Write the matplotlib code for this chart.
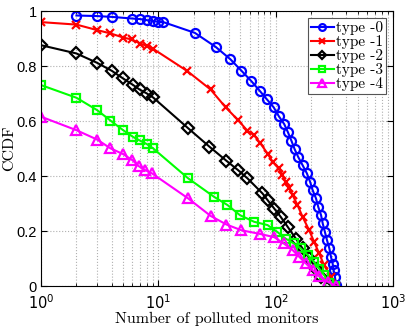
import numpy as np
import matplotlib
matplotlib.use('Agg')
import matplotlib.pyplot as plt
from matplotlib.ticker import LogLocator, FixedLocator, NullFormatter

# values (x: number of polluted monitors, y: CCDF)
x0 = [2, 3, 4, 6, 7, 8, 9, 10, 11, 20.4, 30.7, 41, 51, 62, 73, 84, 96, 106, 118, 127, 136, 145, 155,
      169, 184, 196, 206, 220, 230, 243, 251, 262, 273, 286, 295, 305, 311, 319, 326]
y0 = [0.984, 0.982, 0.979, 0.973, 0.971, 0.967, 0.964, 0.961, 0.960, 0.921, 0.870, 0.825, 0.783, 0.745,
      0.710, 0.679, 0.650, 0.618, 0.589, 0.559, 0.528, 0.497, 0.470,
      0.440, 0.410, 0.379, 0.349, 0.319, 0.288, 0.258, 0.228, 0.197, 0.167, 0.137, 0.107, 0.082, 0.058,
      0.034, 0.004]

x1 = [1, 2, 3, 3.9, 5, 5.9, 7, 8, 9, 17.6, 27.8, 37.4, 47.6, 57.3, 65.3, 74, 85, 94, 106, 114, 121,
      130, 139, 153, 169, 192, 212, 234, 258, 295, 326]
y1 = [0.960, 0.951, 0.931, 0.919, 0.904, 0.897, 0.882, 0.873, 0.863, 0.782, 0.715, 0.650, 0.604, 0.565,
      0.549, 0.519, 0.482, 0.452, 0.428, 0.404, 0.379, 0.355, 0.331, 0.295, 0.252, 0.204, 0.161, 0.119,
      0.076, 0.034, 0.0]

x2 = [1, 2, 3, 4, 5, 6.1, 6.9, 8, 9, 17.8, 27.2, 37.9, 47.6, 57.3, 77, 85, 97, 110, 126, 148, 169,
      193, 220, 243, 290]
y2 = [0.876, 0.846, 0.812, 0.783, 0.755, 0.731, 0.715, 0.700, 0.686, 0.575, 0.507, 0.456, 0.422, 0.392,
      0.337, 0.313, 0.282, 0.252, 0.216, 0.173, 0.137, 0.101, 0.064, 0.034, 0.004]

x3 = [1, 2, 3, 3.9, 5, 6.1, 6.9, 8, 9, 17.9, 29.7, 38.7, 49.5, 65.3, 85, 103, 121, 143, 163, 187,
      212, 234, 258, 285, 320]
y3 = [0.731, 0.685, 0.640, 0.602, 0.567, 0.542, 0.530, 0.516, 0.501, 0.392, 0.325, 0.295, 0.258, 0.234,
      0.222, 0.197, 0.173, 0.155, 0.137, 0.113, 0.088, 0.064, 0.040, 0.012, 0.0]

x4 = [1, 2, 3, 3.9, 5, 6, 6.8, 7.7, 8.8, 17.9, 27.9, 38, 51, 73, 97, 117, 139, 158, 180, 206, 234,
      277, 326]
y4 = [0.616, 0.567, 0.533, 0.501, 0.480, 0.458, 0.436, 0.422, 0.410, 0.319, 0.255, 0.224, 0.203, 0.190,
      0.178, 0.155, 0.131, 0.107, 0.083, 0.058, 0.036, 0.016, 0.0]

labels = ['type -0', 'type -1', 'type -2', 'type -3', 'type -4']
colors = ['#0000ff', '#ff0000', '#000000', '#00ff00', '#ff00ff']
markers = ['o', 'x', 'D', 's', '^']
sizes = [6.5, 5.5, 6, 5.5, 7]

serif = 'cmr10'
sans = 'Liberation Sans'

fig = plt.figure(figsize=(4.07, 3.27), dpi=100)
ax = fig.add_axes([0.101, 0.125, 0.865, 0.841])

data = [(x0, y0), (x1, y1), (x2, y2), (x3, y3), (x4, y4)]
for (xs, ys), lab, col, mk, ms in zip(data, labels, colors, markers, sizes):
    ax.plot(xs, ys, color=col, marker=mk, markersize=ms, markerfacecolor='none',
            markeredgewidth=1.6, linewidth=1.5, label=lab)

ax.set_xscale('log')
ax.set_xlim(1, 1000)
ax.set_ylim(0, 1)
ax.set_yticks([0, 0.2, 0.4, 0.6, 0.8, 1])
ax.set_yticklabels(['0', '0.2', '0.4', '0.6', '0.8', '1'], fontfamily=sans)
ax.xaxis.set_major_locator(FixedLocator([1, 10, 100, 1000]))
ax.set_xticklabels(['$\\mathsf{10^{0}}$', '$\\mathsf{10^{1}}$', '$\\mathsf{10^{2}}$', '$\\mathsf{10^{3}}$'])
ax.xaxis.set_minor_locator(LogLocator(base=10, subs=np.arange(2, 10)))
ax.xaxis.set_minor_formatter(NullFormatter())
ax.tick_params(which='both', direction='in', top=True, right=True, labelsize=10.5)
ax.tick_params(which='major', length=4)
ax.tick_params(which='minor', length=2)
ax.tick_params(axis='y', pad=3)
ax.tick_params(axis='x', pad=5)
ax.grid(True, which='major', linestyle=':', color='#b0b0b0', linewidth=0.8)
ax.grid(True, which='minor', axis='x', linestyle=':', color='#b0b0b0', linewidth=0.8)
for s in ax.spines.values():
    s.set_linewidth(0.8)

ax.set_xlabel('Number of polluted monitors', fontfamily=serif, fontsize=11.5)
ax.set_ylabel('CCDF', fontfamily=serif, fontsize=11.5)
ax.xaxis.set_label_coords(0.5, -0.095)
ax.yaxis.set_label_coords(-0.07, 0.5)

leg = ax.legend(loc='upper right', prop={'family': serif, 'size': 11}, handlelength=1.5,
                handletextpad=0.15, labelspacing=0.0, borderpad=0.2, fancybox=False,
                borderaxespad=0.45, framealpha=1, markerscale=0.75)
leg.get_frame().set_edgecolor('#555555')
leg.get_frame().set_linewidth(0.8)

fig.savefig('out.png', dpi=100)
plt.close(fig)
